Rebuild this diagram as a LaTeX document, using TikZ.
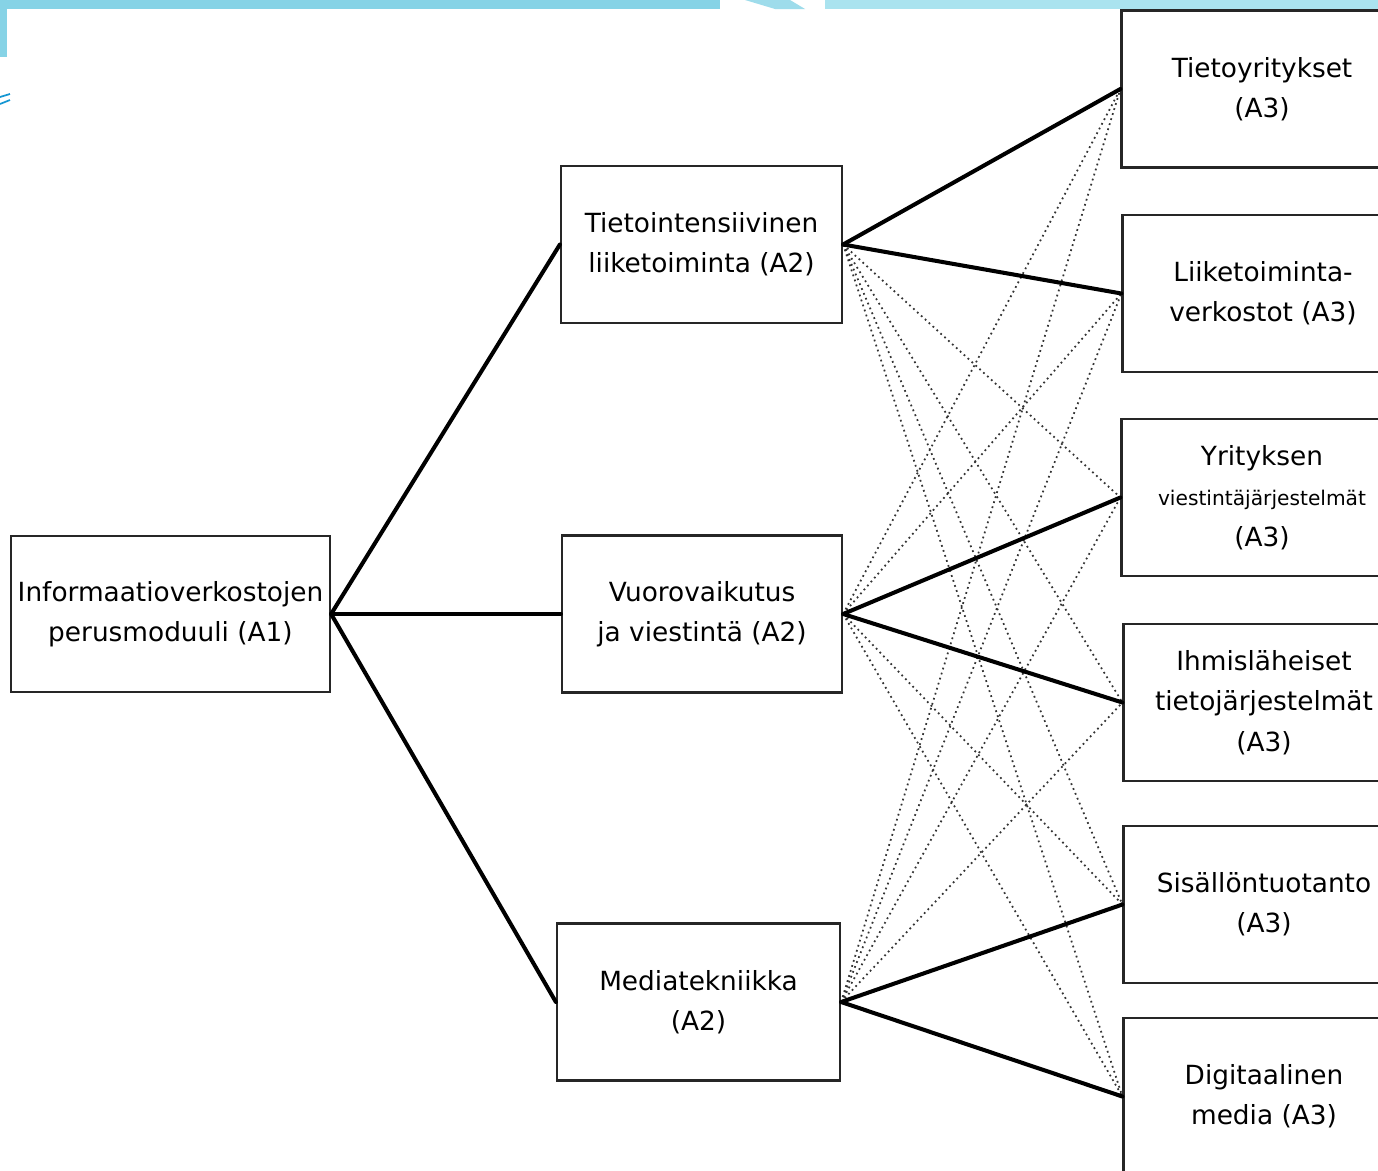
\documentclass[tikz,border=0pt]{standalone}
\usepackage{fontspec}
\setmainfont{DejaVu Sans}

\definecolor{barcyan}{RGB}{134,211,230}
\definecolor{barlight}{RGB}{170,227,239}
\definecolor{swoosh}{RGB}{20,150,210}

\tikzset{
    box/.style={draw=black!85, line width=1.3pt, fill=white, inner sep=2pt,
        minimum width=5.62cm, minimum height=3.14cm, align=center,
        font=\fontsize{15}{23}\selectfont},
    link/.style={line width=2.3pt, line cap=round},
    cross/.style={line width=1pt, dotted, black!80},
}

\begin{document}
\begin{tikzpicture}[x=0.02cm, y=-0.02cm]

    \clip (0,0) rectangle (1378,1170);
    \fill[white] (0,0) rectangle (1378,1170);

    \fill[barcyan] (0,0) rectangle (720,9);
    \fill[barcyan!80!white] (745,0) -- (790,0) -- (805,9) -- (775,9) -- cycle;
    \fill[barlight] (825,0) rectangle (1378,9);
    \fill[barcyan] (0,0) rectangle (7,57);
    \draw[swoosh, line width=1pt] (0,97) -- (10,94);
    \draw[swoosh, line width=1pt] (0,104) -- (10,100);



    \node[box, minimum width=6.38cm, minimum height=3.12cm] (a1) at (170.5,614)
        {Informaatioverkostojen\\perusmoduuli (A1)};



    \node[box] (a2top) at (701.5,244.5) {Tietointensiivinen\\liiketoiminta (A2)};

    \node[box, minimum width=5.6cm] (a2mid) at (702,614) {Vuorovaikutus\\ja viestintä (A2)};

    \node[box, minimum width=5.66cm] (a2bot) at (698.5,1002) {Mediatekniikka\\(A2)};



    \node[box] (yrit) at (1262,89) {Tietoyritykset\\(A3)};

    \node[box] (verk) at (1263,293.5) {Liiketoiminta-\\verkostot (A3)};

    \node[box] (viest) at (1262,497.5)
        {Yrityksen\\{\fontsize{11.5}{21}\selectfont viestintäjärjestelmät}\\(A3)};

    \node[box] (ihmis) at (1264,702.5) {Ihmisläheiset\\tietojärjestelmät\\(A3)};

    \node[box] (sisal) at (1264,904.5) {Sisällöntuotanto\\(A3)};

    \node[box] (digi) at (1264,1096.5) {Digitaalinen\\media (A3)};



    \draw[cross] (a2top.east) -- (viest.west);
    \draw[cross] (a2top.east) -- (ihmis.west);
    \draw[cross] (a2top.east) -- (sisal.west);
    \draw[cross] (a2top.east) -- (digi.west);

    \draw[cross] (a2mid.east) -- (yrit.west);
    \draw[cross] (a2mid.east) -- (verk.west);
    \draw[cross] (a2mid.east) -- (sisal.west);
    \draw[cross] (a2mid.east) -- (digi.west);

    \draw[cross] (a2bot.east) -- (yrit.west);
    \draw[cross] (a2bot.east) -- (verk.west);
    \draw[cross] (a2bot.east) -- (viest.west);
    \draw[cross] (a2bot.east) -- (ihmis.west);



    \draw[link] (a1.east) -- (a2top.west);
    \draw[link] (a1.east) -- (a2mid.west);
    \draw[link] (a1.east) -- (a2bot.west);

    \draw[link] (a2top.east) -- (yrit.west);
    \draw[link] (a2top.east) -- (verk.west);

    \draw[link] (a2mid.east) -- (viest.west);
    \draw[link] (a2mid.east) -- (ihmis.west);

    \draw[link] (a2bot.east) -- (sisal.west);
    \draw[link] (a2bot.east) -- (digi.west);

  \end{tikzpicture}
\end{document}
